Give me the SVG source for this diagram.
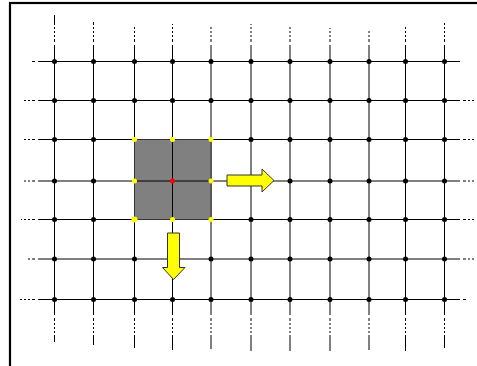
<svg xmlns="http://www.w3.org/2000/svg" width="477" height="366" viewBox="0 0 477 366">
<style>
.frame{fill:#fff;stroke:#000;stroke-width:2.2}
.ln{stroke:#000;stroke-width:1;fill:none}
.ext{stroke:#000;stroke-width:1;fill:none;stroke-dasharray:16 3 3 2 2 2 2 2 2 2}
.nd{fill:#000}
.yl{fill:#ffff00}
.rd{fill:#ff0000}
.sq{fill:#808080;stroke:#333;stroke-width:1}
.arr{fill:#ffff00;stroke:#333;stroke-width:1;stroke-linejoin:miter}
</style>
<rect class="frame" x="10" y="3" width="480" height="380"/>
<g id="connectors">
<!-- vertical lines -->
<path class="ln" d="M54.5 61V299.5M93.5 61V299.5M134.5 61V299.5M172.5 61V299.5M211 61V299.5M251 61V299.5M290 61V299.5M330 61V299.5M369 61V299.5M405.5 61V299.5M444.5 61V299.5"/>
<!-- horizontal lines -->
<path class="ln" d="M54 61.5H445M54 100.5H445M54 139.5H445M54 181H445M54 219.5H445M54 259H445M54 299.5H445"/>
<!-- vertical extensions (from node outward) -->
<path class="ext" d="M54.5 61V15M54.5 299V342M93.5 61V22M93.5 299V345M134.5 61V27M134.5 299V348M172.5 61V24M172.5 299V350M211 61V27M211 299V349M251 61V24M251 299V353M290 61V25M290 299V354M330 61V28M330 299V353M369 61V31M369 299V350M405.5 61V25M405.5 299V352M444.5 61V23M444.5 299V348"/>
<!-- horizontal extensions -->
<path class="ext" d="M54 61.5H30M444 61.5H463M54 100.5H22M444 100.5H476M54 139.5H24M444 139.5H476M54 181H23M444 181H474M54 219.5H21M444 219.5H476M54 259H26M444 259H475M54 299.5H18M444 299.5H467"/>
</g>
<g id="square">
<rect class="sq" x="134.5" y="139.5" width="76.5" height="80"/>
<path class="ln" d="M172.5 139.5V219.5M134.5 181H211"/>
</g>
<g id="arrow-right">
<path class="arr" d="M227 175H262V169L274 180.5L262 192V186H227Z"/>
</g>
<g id="arrow-down">
<path class="arr" d="M167.5 233H179.5V267.5H185L173.5 279.5L162.5 267.5H167.5Z"/>
</g>
<g id="nodes">
<g id="n-r1"><circle class="nd" cx="54.5" cy="61.5" r="2.5"/><circle class="nd" cx="93.5" cy="61.5" r="2.5"/><circle class="nd" cx="134.5" cy="61.5" r="2.5"/><circle class="nd" cx="172.5" cy="61.5" r="2.5"/><circle class="nd" cx="211" cy="61.5" r="2.5"/><circle class="nd" cx="251" cy="61.5" r="2.5"/><circle class="nd" cx="290" cy="61.5" r="2.5"/><circle class="nd" cx="330" cy="61.5" r="2.5"/><circle class="nd" cx="369" cy="61.5" r="2.5"/><circle class="nd" cx="405.5" cy="61.5" r="2.5"/><circle class="nd" cx="444.5" cy="61.5" r="2.5"/></g>
<g id="n-r2"><circle class="nd" cx="54.5" cy="100.5" r="2.5"/><circle class="nd" cx="93.5" cy="100.5" r="2.5"/><circle class="nd" cx="134.5" cy="100.5" r="2.5"/><circle class="nd" cx="172.5" cy="100.5" r="2.5"/><circle class="nd" cx="211" cy="100.5" r="2.5"/><circle class="nd" cx="251" cy="100.5" r="2.5"/><circle class="nd" cx="290" cy="100.5" r="2.5"/><circle class="nd" cx="330" cy="100.5" r="2.5"/><circle class="nd" cx="369" cy="100.5" r="2.5"/><circle class="nd" cx="405.5" cy="100.5" r="2.5"/><circle class="nd" cx="444.5" cy="100.5" r="2.5"/></g>
<g id="n-r3"><circle class="nd" cx="54.5" cy="139.5" r="2.5"/><circle class="nd" cx="93.5" cy="139.5" r="2.5"/><circle class="yl" cx="134.5" cy="139.5" r="2.5"/><circle class="yl" cx="172.5" cy="139.5" r="2.5"/><circle class="yl" cx="211" cy="139.5" r="2.5"/><circle class="nd" cx="251" cy="139.5" r="2.5"/><circle class="nd" cx="290" cy="139.5" r="2.5"/><circle class="nd" cx="330" cy="139.5" r="2.5"/><circle class="nd" cx="369" cy="139.5" r="2.5"/><circle class="nd" cx="405.5" cy="139.5" r="2.5"/><circle class="nd" cx="444.5" cy="139.5" r="2.5"/></g>
<g id="n-r4"><circle class="nd" cx="54.5" cy="181" r="2.5"/><circle class="nd" cx="93.5" cy="181" r="2.5"/><circle class="yl" cx="134.5" cy="181" r="2.5"/><circle class="rd" cx="172.5" cy="181" r="2.5"/><circle class="yl" cx="211" cy="181" r="2.5"/><circle class="nd" cx="290" cy="181" r="2.5"/><circle class="nd" cx="330" cy="181" r="2.5"/><circle class="nd" cx="369" cy="181" r="2.5"/><circle class="nd" cx="405.5" cy="181" r="2.5"/><circle class="nd" cx="444.5" cy="181" r="2.5"/></g>
<g id="n-r5"><circle class="nd" cx="54.5" cy="219.5" r="2.5"/><circle class="nd" cx="93.5" cy="219.5" r="2.5"/><circle class="yl" cx="134.5" cy="219.5" r="3"/><circle class="yl" cx="172.5" cy="219.5" r="2.5"/><circle class="yl" cx="211" cy="219.5" r="2.5"/><circle class="nd" cx="251" cy="219.5" r="2.5"/><circle class="nd" cx="290" cy="219.5" r="2.5"/><circle class="nd" cx="330" cy="219.5" r="2.5"/><circle class="nd" cx="369" cy="219.5" r="2.5"/><circle class="nd" cx="405.5" cy="219.5" r="2.5"/><circle class="nd" cx="444.5" cy="219.5" r="2.5"/></g>
<g id="n-r6"><circle class="nd" cx="54.5" cy="259" r="2.5"/><circle class="nd" cx="93.5" cy="259" r="2.5"/><circle class="nd" cx="134.5" cy="259" r="2.5"/><circle class="nd" cx="211" cy="259" r="2.5"/><circle class="nd" cx="251" cy="259" r="2.5"/><circle class="nd" cx="290" cy="259" r="2.5"/><circle class="nd" cx="330" cy="259" r="2.5"/><circle class="nd" cx="369" cy="259" r="2.5"/><circle class="nd" cx="405.5" cy="259" r="2.5"/><circle class="nd" cx="444.5" cy="259" r="2.5"/></g>
<g id="n-r7"><circle class="nd" cx="54.5" cy="299.5" r="2.5"/><circle class="nd" cx="93.5" cy="299.5" r="2.5"/><circle class="nd" cx="134.5" cy="299.5" r="2.5"/><circle class="nd" cx="172.5" cy="299.5" r="2.5"/><circle class="nd" cx="211" cy="299.5" r="2.5"/><circle class="nd" cx="251" cy="299.5" r="2.5"/><circle class="nd" cx="290" cy="299.5" r="2.5"/><circle class="nd" cx="330" cy="299.5" r="2.5"/><circle class="nd" cx="369" cy="299.5" r="2.5"/><circle class="nd" cx="405.5" cy="299.5" r="2.5"/><circle class="nd" cx="444.5" cy="299.5" r="2.5"/></g>
</g>
</svg>
